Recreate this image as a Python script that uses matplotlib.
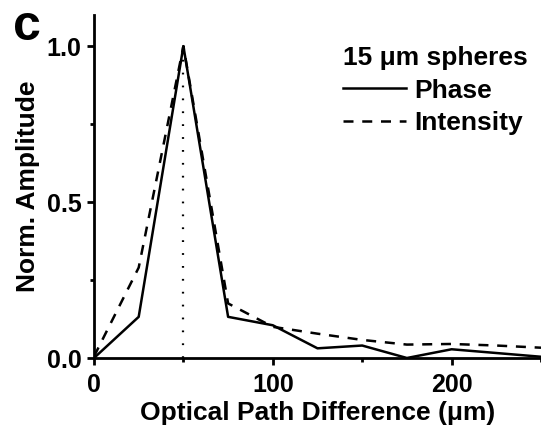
import matplotlib
matplotlib.use("Agg")
from matplotlib import pyplot as plt
from matplotlib.ticker import MultipleLocator

# data
opd = [0, 25, 50, 75, 100, 125, 150, 175, 200, 225, 250]
phase = [0.0, 0.132, 1.0, 0.132, 0.105, 0.031, 0.04, 0.0, 0.028, 0.016, 0.004]
intensity = [0.005, 0.29, 1.0, 0.175, 0.10, 0.078, 0.058, 0.043, 0.045, 0.04, 0.033]
peak_x = 50

plt.rcParams["font.family"] = ["Liberation Sans", "DejaVu Sans"]
plt.rcParams["font.weight"] = "bold"

fig = plt.figure(figsize=(5.41, 4.25), dpi=100)
ax = fig.add_axes([94/541, 1 - 358/425, 1 - 94/541, (358 - 15)/425])

ax.plot(opd, phase, color="black", lw=1.8, label="Phase")
ax.plot(opd, intensity, color="black", lw=1.8, ls=(0, (4, 3.5)), label="Intensity")
ax.plot([peak_x, peak_x], [0, 1.0], color="black", lw=1.6, ls=(0, (0.8, 5)))

ax.set_xlim(0, 250)
ax.set_ylim(0, 1.1)
ax.xaxis.set_major_locator(MultipleLocator(100))
ax.xaxis.set_minor_locator(MultipleLocator(50))
ax.yaxis.set_minor_locator(MultipleLocator(0.25))
ax.set_yticks([0, 0.5, 1.0])
ax.set_yticklabels(["0.0", "0.5", "1.0"])

for s in ["top", "right"]:
    ax.spines[s].set_visible(False)
for s in ["left", "bottom"]:
    ax.spines[s].set_linewidth(2.0)
    ax.spines[s].set_clip_on(False)

ax.tick_params(which="major", direction="out", length=5, width=2.0, labelsize=18)
ax.tick_params(which="minor", direction="out", length=3, width=2.0)
ax.tick_params(axis="x", which="major", pad=6)
ax.tick_params(axis="y", which="major", pad=4)

ax.set_xlabel("Optical Path Difference (\u03bcm)", fontsize=19, fontweight="bold", labelpad=3)
ax.set_ylabel("Norm. Amplitude", fontsize=19, fontweight="bold", labelpad=5)

leg = ax.legend(title="15 \u03bcm spheres", loc="upper right", bbox_to_anchor=(1.008, 0.96),
                frameon=False, fontsize=19, title_fontsize=19, handlelength=2.4,
                handletextpad=0.3, labelspacing=0.33, borderpad=0.55, borderaxespad=0.1)
leg._legend_box.align = "left"
leg.get_title().set_fontweight("bold")

fig.text(13/541, 1 - 40/425, "c", fontsize=36, fontweight="bold", va="baseline")

fig.savefig("out.png", dpi=100)
